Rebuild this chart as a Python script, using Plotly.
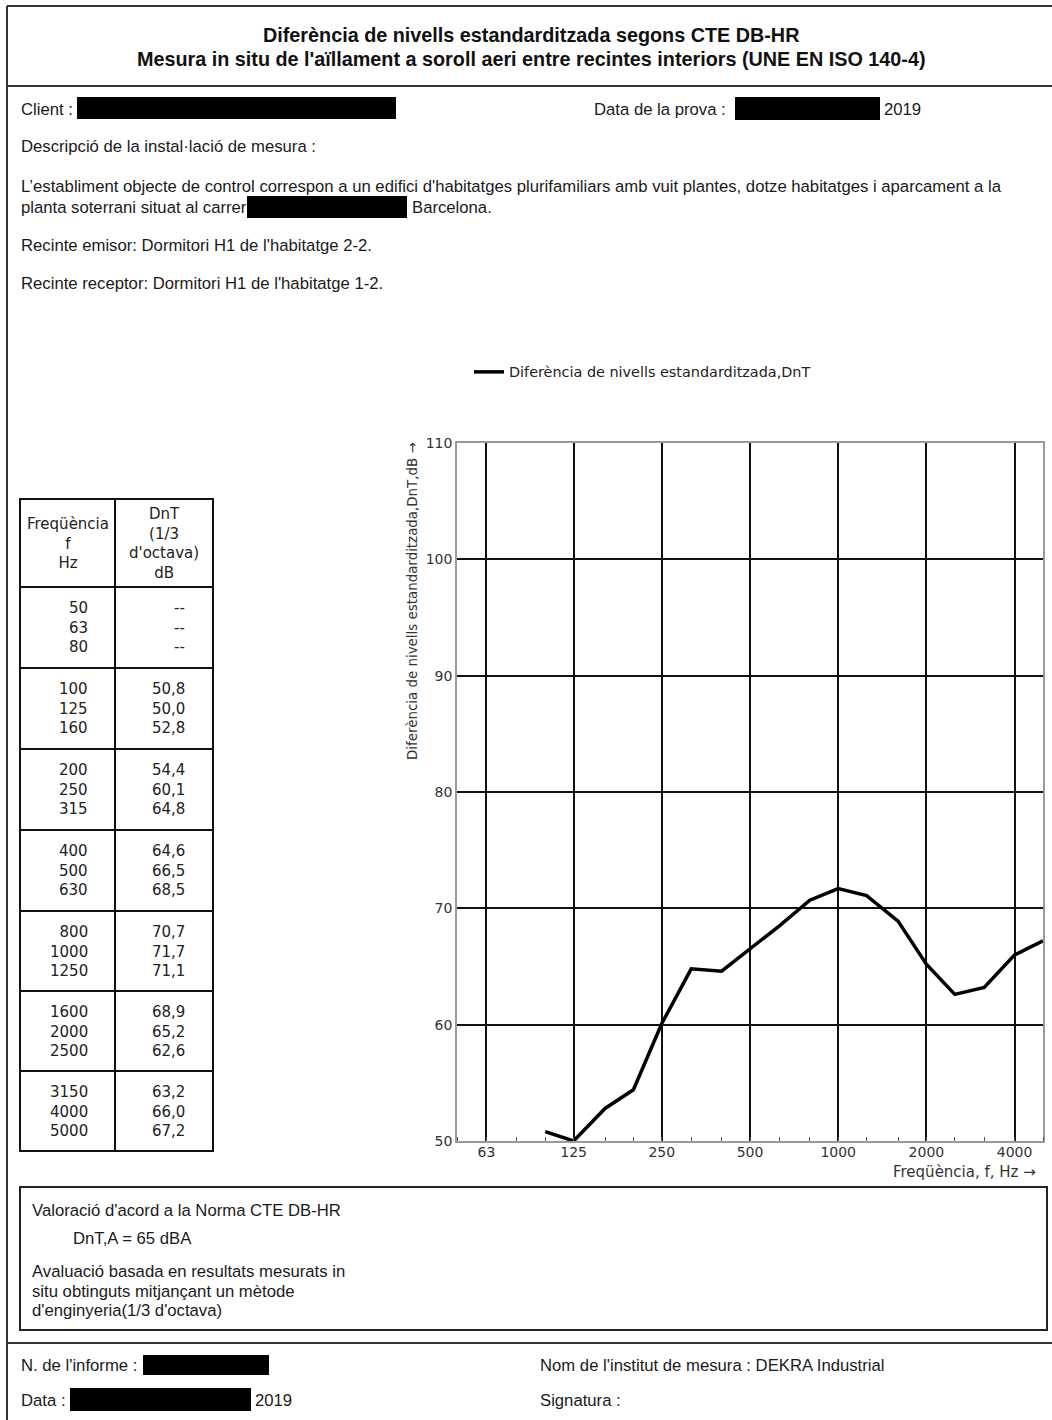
import math
import plotly.graph_objects as go

# ---------------- data ----------------
freq_bands = [50, 63, 80, 100, 125, 160, 200, 250, 315, 400, 500, 630,
              800, 1000, 1250, 1600, 2000, 2500, 3150, 4000, 5000]
dnt_values = [None, None, None, 50.8, 50.0, 52.8, 54.4, 60.1, 64.8, 64.6, 66.5, 68.5,
              70.7, 71.7, 71.1, 68.9, 65.2, 62.6, 63.2, 66.0, 67.2]
octave_ticks = [63, 125, 250, 500, 1000, 2000, 4000]
y_ticks = [50, 60, 70, 80, 90, 100, 110]
series_name = "Diferència de nivells estandarditzada,DnT"
y_title = "Diferència de nivells estandarditzada,DnT,dB →"
x_title = "Freqüència, f, Hz →"

title_lines = ["Diferència de nivells estandarditzada segons CTE DB-HR",
               "Mesura in situ de l'aïllament a soroll aeri entre recintes interiors (UNE EN ISO 140-4)"]
table_header = ["Freqüència<br>f<br>Hz", "DnT<br>(1/3<br>d'octava)<br>dB"]
rating_text = "DnT,A = 65 dBA"

# ---------------- helpers ----------------
W, H = 1052, 1420


def X(p):
    return p / W


def Y(p):
    return 1 - p / H


BODY = dict(family="Liberation Sans, Arial", size=16.7, color="#1a1a1a")
CHART = dict(family="DejaVu Sans", size=14, color="#333333")
TABLE = dict(family="DejaVu Sans", size=15, color="#222222")

fig = go.Figure()

fig.add_trace(go.Scatter(
    x=freq_bands, y=dnt_values, mode="lines", name=series_name,
    line=dict(color="black", width=3.5), connectgaps=False, showlegend=True))

shapes = []
annotations = []


def text(x, y, s, font=BODY, xanchor="left", align="left", **kw):
    annotations.append(dict(x=X(x), y=Y(y), xref="paper", yref="paper", text=s,
                            showarrow=False, xanchor=xanchor, yanchor="middle",
                            align=align, font=font, borderpad=0, borderwidth=0, **kw))


def line(x0, y0, x1, y1, w=2, color="#333333"):
    shapes.append(dict(type="line", xref="paper", yref="paper", x0=X(x0), y0=Y(y0),
                       x1=X(x1), y1=Y(y1), line=dict(color=color, width=w)))


def rect(x0, y0, x1, y1, fill=None, w=2, color="#222222"):
    d = dict(type="rect", xref="paper", yref="paper", x0=X(x0), y0=Y(y0),
             x1=X(x1), y1=Y(y1), line=dict(color=color, width=w if fill is None else 0))
    if fill:
        d["fillcolor"] = fill
    shapes.append(d)


# page frame
line(7, 6, 1052, 6)
line(7, 6, 7, 1420)
line(7, 86, 1052, 86)
line(7, 1343, 1052, 1343)

# title
TITLE = dict(family="Liberation Sans, Arial", size=19.8, color="#111111")
text(531, 35, "<b>%s</b>" % title_lines[0], font=TITLE, xanchor="center", align="center")
text(531, 59, "<b>%s</b>" % title_lines[1], font=TITLE, xanchor="center", align="center")

# header info
text(21, 109, "Client :")
rect(77, 97, 396, 119, fill="black")
text(594, 109, "Data de la prova :")
rect(735, 97, 880, 120, fill="black")
text(884, 109, "2019")
text(21, 147, "Descripció de la instal·lació de mesura :")
text(21, 186, "L’establiment objecte de control correspon a un edifici d'habitatges plurifamiliars amb vuit plantes, dotze habitatges i aparcament a la")
text(21, 207, "planta soterrani situat al carrer")
rect(247, 196, 407, 218, fill="black")
text(412, 207, "Barcelona.")
text(21, 245, "Recinte emisor: Dormitori H1 de l'habitatge 2-2.")
text(21, 284, "Recinte receptor: Dormitori H1 de l'habitatge 1-2.")

# table
tbl_x0, tbl_xm, tbl_x1 = 20, 115, 213
tbl_edges = [499, 587, 668, 749, 830, 911, 991, 1071, 1151]
rect(tbl_x0, tbl_edges[0], tbl_x1, tbl_edges[-1], w=2, color="#111111")
line(tbl_xm, tbl_edges[0], tbl_xm, tbl_edges[-1], w=2, color="#111111")
for e in tbl_edges[1:-1]:
    line(tbl_x0, e, tbl_x1, e, w=2, color="#111111")
hc = (tbl_edges[0] + tbl_edges[1]) / 2
text((tbl_x0 + tbl_xm) / 2, hc, table_header[0], font=TABLE, xanchor="center", align="center")
text((tbl_xm + tbl_x1) / 2, hc, table_header[1], font=TABLE, xanchor="center", align="center")


def fmt(v):
    return "--" if v is None else ("%.1f" % v).replace(".", ",")


for g in range(7):
    fs = freq_bands[3 * g:3 * g + 3]
    vs = dnt_values[3 * g:3 * g + 3]
    cy = (tbl_edges[g + 1] + tbl_edges[g + 2]) / 2
    text(88, cy, "<br>".join(str(f) for f in fs), font=TABLE, xanchor="right", align="right")
    text(185, cy, "<br>".join(fmt(v) for v in vs), font=TABLE, xanchor="right", align="right")

# axis titles
text(412, 601, y_title, font=dict(family="DejaVu Sans", size=13.4, color="#333333"),
     xanchor="center", align="center", textangle=-90)
text(1036, 1172, x_title, font=dict(family="DejaVu Sans", size=15, color="#333333"),
     xanchor="right", align="right")

# evaluation box
rect(20, 1187, 1047, 1330, w=2, color="#222222")
text(32, 1210, "Valoració d'acord a la Norma CTE DB-HR")
text(73, 1238, rating_text)
text(32, 1271, "Avaluació basada en resultats mesurats in")
text(32, 1291, "situ obtinguts mitjançant un mètode")
text(32, 1310, "d'enginyeria(1/3 d'octava)")

# footer
text(21, 1365, "N. de l'informe :")
rect(143, 1355, 269, 1375, fill="black")
text(540, 1365, "Nom de l'institut de mesura : DEKRA Industrial")
text(21, 1400, "Data :")
rect(70, 1388, 251, 1411, fill="black")
text(255, 1400, "2019")
text(540, 1400, "Signatura :")

fig.update_layout(
    width=W, height=H, autosize=False,
    margin=dict(l=0, r=0, t=0, b=0, autoexpand=False),
    paper_bgcolor="white", plot_bgcolor="white",
    shapes=shapes, annotations=annotations,
    showlegend=True,
    legend=dict(x=X(469), y=Y(356), xanchor="left", yanchor="top",
                font=dict(family="DejaVu Sans", size=14.4, color="#222222"),
                bgcolor="rgba(0,0,0,0)", borderwidth=0),
    xaxis=dict(type="log", range=[math.log10(50), math.log10(5000)],
               domain=[X(457), X(1043)], anchor="y", automargin=False,
               tickmode="array", tickvals=octave_ticks,
               ticktext=[str(t) for t in octave_ticks],
               showgrid=True, gridcolor="#111111", gridwidth=2,
               showline=True, mirror=True, linecolor="#9a9a9a", linewidth=1.5,
               ticks="", zeroline=False, tickfont=CHART, ticklabelstandoff=-3,
               minor=dict(tickmode="array", tickvals=freq_bands, ticks="inside",
                          ticklen=4, tickcolor="#555555", tickwidth=1, showgrid=False)),
    yaxis=dict(range=[50, 110], domain=[Y(1141), Y(443)], anchor="x", automargin=False,
               tickmode="array", tickvals=y_ticks,
               showgrid=True, gridcolor="#111111", gridwidth=2,
               showline=True, mirror=True, linecolor="#9a9a9a", linewidth=1.5,
               ticks="", zeroline=False, tickfont=CHART, ticklabelstandoff=0),
)

post = ("document.documentElement.style.margin='0';"
        "document.body.style.margin='0';document.body.style.padding='0';"
        "document.body.style.overflow='hidden';"
        "var gd=document.getElementById('{plot_id}');"
        "gd.style.position='fixed';gd.style.left='0px';gd.style.top='0px';")

fig.write_html("out.html", config={"displayModeBar": False}, post_script=post)
